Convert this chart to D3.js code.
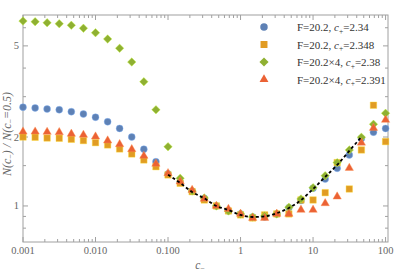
<!DOCTYPE html>
<html>
<head>
<meta charset="utf-8">
<script src="https://cdn.jsdelivr.net/npm/d3@7"></script>
<style>
  body { margin: 0; background: #fff; }
  svg text { font-family: "Liberation Serif", "DejaVu Serif", serif; }
</style>
</head>
<body>
<div id="chart"></div>
<script>
// c_ sample points (log spaced, 6 per decade)
const cMinus = [0.001, 0.00147, 0.00215, 0.00316, 0.00464, 0.00681,
  0.01, 0.0147, 0.0215, 0.0316, 0.0464, 0.0681,
  0.1, 0.147, 0.215, 0.316, 0.464, 0.681,
  1, 1.47, 2.15, 3.16, 4.64, 6.81,
  10, 14.7, 21.5, 31.6, 46.4, 68.1, 100];

const blueVals = [2.70, 2.68, 2.65, 2.63, 2.58, 2.52, 2.44, 2.33, 2.18, 2.00, 1.77, 1.56,
  1.38, 1.27, 1.16, 1.08, 1.00, 0.951, 0.923, 0.895, 0.895, 0.923, 0.983, 1.055,
  1.195, 1.31, 1.46, 1.67, 1.97, 2.10, 2.18];
const orangeVals = [2.00, 1.995, 1.98, 1.975, 1.955, 1.93, 1.89, 1.847, 1.774, 1.687, 1.588, 1.484,
  1.366, 1.256, 1.155, 1.062, 1.00, 0.951, 0.914, 0.886, 0.914, 0.923, 0.923, 1.062,
  1.062, 1.143, 1.546, 1.186, 1.756, 2.753, 1.91];
const greenVals = [6.42, 6.38, 6.31, 6.25, 6.15, 5.97, 5.71, 5.36, 4.88, 4.25, 3.49, 2.63,
  1.815, 1.321, 1.163, 1.084, 1.00, 0.951, 0.923, 0.895, 0.905, 0.923, 0.987, 1.073,
  1.202, 1.356, 1.546, 1.756, 1.995, 2.274, 2.54];
const redVals = [2.11, 2.11, 2.104, 2.098, 2.063, 2.042, 2.007, 1.929, 1.860, 1.768, 1.653, 1.526,
  1.389, 1.277, 1.174, 1.073, 1.00, 0.970, 0.923, 0.886, 0.886, 0.923, 0.923, 0.961,
  0.961, 1.027, 1.098, 1.465, 1.888, 2.19, 2.375];

// dashed reference curve
const fitX = [0.1, 0.147, 0.215, 0.316, 0.464, 0.681, 1, 1.47, 2.15, 3.16, 4.64, 6.81, 10, 14.7, 21.5, 31.6, 46.4];
const fitY = [1.37, 1.26, 1.15, 1.08, 1.0, 0.96, 0.914, 0.895, 0.9, 0.93, 0.98, 1.06, 1.186, 1.34, 1.51, 1.74, 2.0];

const xTickVals = [0.001, 0.01, 0.1, 1, 10, 100];
const xTickLabels = ["0.001", "0.010", "0.100", "1", "10", "100"];
const yTickVals = [1, 2, 5];
const yMinorVals = [0.8, 0.9, 1.5, 3, 4, 6];

// diamond = square turned 45 degrees
const series = [
  {name: "blue",   vals: blueVals,   color: "#5E81B5", shape: d3.symbolCircle,   size: 38, rot: 0,  label: ["F=20.2, ", "2.34"]},
  {name: "orange", vals: orangeVals, color: "#E19C24", shape: d3.symbolSquare,   size: 42, rot: 0,  label: ["F=20.2, ", "2.348"]},
  {name: "green",  vals: greenVals,  color: "#8FB032", shape: d3.symbolSquare,   size: 36, rot: 45, label: ["F=20.2\u00d74, ", "2.38"]},
  {name: "red",    vals: redVals,    color: "#EB6235", shape: d3.symbolTriangle, size: 30, rot: 0,  label: ["F=20.2\u00d74, ", "2.391"]}
];

const width = 394, height = 272;
const mLeft = 23, mRight = 388, mTop = 15, mBottom = 242;

const svg = d3.select("#chart").append("svg")
  .attr("width", width).attr("height", height);

const x = d3.scaleLog().domain([0.001, 108]).range([mLeft, mRight]);
const y = d3.scaleLog().domain([0.696, 6.82]).range([mBottom, mTop]);

const axisColor = "#a0a0a0";
const labelColor = "#666";

// minor x ticks
const xMinor = [];
for (let d = -3; d <= 2; d++) {
  for (let m = 2; m <= 9; m++) {
    const v = m * Math.pow(10, d);
    if (v < 108) xMinor.push(v);
  }
}

const g = svg.append("g");

// frame
g.append("rect").attr("x", mLeft).attr("y", mTop)
  .attr("width", mRight - mLeft).attr("height", mBottom - mTop)
  .attr("fill", "none").attr("stroke", axisColor).attr("stroke-width", 1);

// x ticks (bottom and top, pointing inward)
[[mBottom, -1], [mTop, 1]].forEach(([yy, dir]) => {
  g.selectAll(null).data(xTickVals).enter().append("line")
    .attr("x1", d => x(d)).attr("x2", d => x(d))
    .attr("y1", yy).attr("y2", yy + dir * 5)
    .attr("stroke", axisColor);
  g.selectAll(null).data(xMinor).enter().append("line")
    .attr("x1", d => x(d)).attr("x2", d => x(d))
    .attr("y1", yy).attr("y2", yy + dir * 3)
    .attr("stroke", axisColor);
});

// y ticks (left and right)
[[mLeft, 1], [mRight, -1]].forEach(([xx, dir]) => {
  g.selectAll(null).data(yTickVals).enter().append("line")
    .attr("x1", xx).attr("x2", xx + dir * 5)
    .attr("y1", d => y(d)).attr("y2", d => y(d))
    .attr("stroke", axisColor);
  g.selectAll(null).data(yMinorVals).enter().append("line")
    .attr("x1", xx).attr("x2", xx + dir * 3)
    .attr("y1", d => y(d)).attr("y2", d => y(d))
    .attr("stroke", axisColor);
});

// tick labels
g.selectAll(null).data(xTickVals).enter().append("text")
  .attr("x", d => x(d)).attr("y", mBottom + 12)
  .attr("text-anchor", "middle").attr("font-size", 10.5)
  .attr("fill", labelColor)
  .text((d, i) => xTickLabels[i]);

g.selectAll(null).data(yTickVals).enter().append("text")
  .attr("x", mLeft - 4).attr("y", d => y(d) + 3.5)
  .attr("text-anchor", "end").attr("font-size", 10.5)
  .attr("fill", labelColor)
  .text(d => d);

// axis labels
const xl = svg.append("text").attr("x", 200).attr("y", 269)
  .attr("text-anchor", "middle").attr("font-size", 11.5).attr("fill", labelColor)
  .attr("font-style", "italic");
xl.append("tspan").text("c");
xl.append("tspan").attr("dy", 2).attr("font-size", 8).attr("font-style", "normal").text("\u2212");

const yl = svg.append("text")
  .attr("transform", "translate(11,134) rotate(-90)")
  .attr("text-anchor", "middle").attr("font-size", 12).attr("fill", labelColor)
  .attr("font-style", "italic");
yl.append("tspan").text("N(c");
yl.append("tspan").attr("dy", 2).attr("font-size", 8).attr("font-style", "normal").text("\u2212");
yl.append("tspan").attr("dy", -2).text(") / N(c");
yl.append("tspan").attr("dy", 2).attr("font-size", 8).attr("font-style", "normal").text("\u2212");
yl.append("tspan").attr("dy", -2).text("=0.5)");

// points
const plot = svg.append("g");
series.forEach(s => {
  plot.selectAll(null).data(cMinus).enter().append("path")
    .attr("d", d3.symbol().type(s.shape).size(s.size))
    .attr("transform", (d, i) => `translate(${x(d)},${y(s.vals[i])}) rotate(${s.rot})`)
    .attr("fill", s.color)
    .attr("stroke", d3.color(s.color).brighter(1))
    .attr("stroke-opacity", 0.5)
    .attr("stroke-width", 0.8);
});

// dashed curve on top
const line = d3.line()
  .x((d, i) => x(fitX[i]))
  .y(d => y(d))
  .curve(d3.curveMonotoneX);
svg.append("path").datum(fitY)
  .attr("d", line)
  .attr("fill", "none").attr("stroke", "#000")
  .attr("stroke-width", 1.8).attr("stroke-dasharray", "3,2.5");

// legend
const legend = svg.append("g");
series.forEach((s, i) => {
  const ly = 27 + i * 17.5;
  legend.append("path")
    .attr("d", d3.symbol().type(s.shape).size(s.size * 1.15))
    .attr("transform", `translate(264,${ly}) rotate(${s.rot})`)
    .attr("fill", s.color);
  const t = legend.append("text").attr("x", 297).attr("y", ly + 4)
    .attr("font-size", 11).attr("fill", "#333");
  t.append("tspan").text(s.label[0]);
  t.append("tspan").attr("font-style", "italic").text("c");
  t.append("tspan").attr("dy", 2.5).attr("font-size", 7.5).text("+");
  t.append("tspan").attr("dy", -2.5).text("=" + s.label[1]);
});
</script>
</body>
</html>
